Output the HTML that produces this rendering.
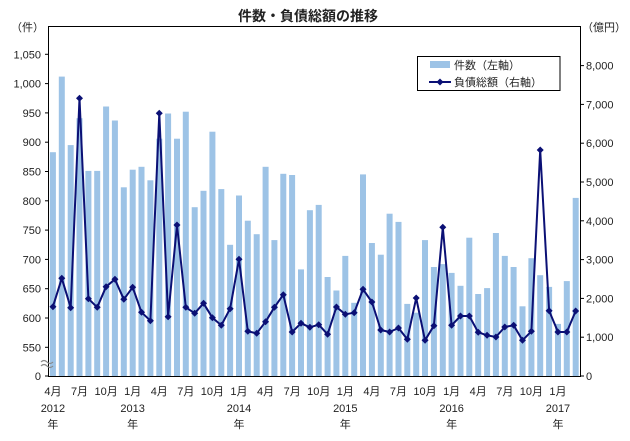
<!DOCTYPE html>
<html><head><meta charset="utf-8"><style>
body{margin:0;background:#fff;width:630px;height:436px;overflow:hidden}
text{font-family:"Liberation Sans","Noto Sans CJK JP",sans-serif;fill:#222}
</style></head><body>
<svg id="s" width="630" height="436" xmlns="http://www.w3.org/2000/svg">
<text x="308" y="21" font-size="14" font-weight="bold" text-anchor="middle" fill="#333">件数・負債総額の推移</text>
<g id="g"></g>
<rect x="417.5" y="56.5" width="142.5" height="34" fill="#fff" stroke="#000" stroke-width="1"/>
<rect x="430" y="61" width="20" height="7" fill="#9dc3e6"/>
<text x="454" y="69" font-size="11">件数（左軸）</text>
<line x1="429" y1="82" x2="451" y2="82" stroke="#0b1075" stroke-width="2"/>
<polygon points="440,78.5 443.5,82 440,85.5 436.5,82" fill="#0b1075"/>
<text x="454" y="86" font-size="11">負債総額（右軸）</text>
</svg>
<script>
var bars=[883,1012,895,941,851,851,961,937,823,853,858,835,906,949,906,952,789,817,918,820,725,809,766,743,858,733,846,844,683,784,793,670,647,706,626,845,728,708,778,764,624,609,733,687,692,677,655,737,641,651,745,706,687,620,702,673,653,590,663,805];
var ly=[306.7,278.3,307.7,98.3,298.7,307.3,286.7,279.3,299.3,287.3,312.3,320.7,113.3,316.7,225,307.3,313.3,303.3,317.7,325.3,308.7,259.3,331.3,333.3,321.7,307.3,294.7,332,323.3,327.3,324.7,334.3,307,314.3,312.7,289.3,302,330,332,328,339.3,298,340.3,325.7,227.3,325.3,316,316,332.3,335.3,337,327,325.3,340.3,331.3,150,310.7,332,332,311];
var h='';function cx(i){return 48.5+8.86*(i+0.5);}
function Y(v){return 347.3-(v-550)*0.586;}
for(var i=0;i<60;i++){var y=Y(bars[i]);h+='<rect x="'+(cx(i)-3).toFixed(1)+'" y="'+y.toFixed(1)+'" width="6" height="'+(376-y).toFixed(1)+'" fill="#9dc3e6"/>';}
var p=ly.map(function(y,i){return cx(i).toFixed(1)+','+y}).join(' ');
h+='<polyline points="'+p+'" fill="none" stroke="#0b1075" stroke-width="2" stroke-linejoin="round"/>';
ly.forEach(function(y,i){var x=cx(i);h+='<polygon points="'+x+','+(y-3.5)+' '+(x+3.5)+','+y+' '+x+','+(y+3.5)+' '+(x-3.5)+','+y+'" fill="#0b1075"/>';});
// axes
h+='<line x1="48.5" y1="26.5" x2="580.5" y2="26.5" stroke="#000"/>';
h+='<line x1="48.5" y1="26" x2="48.5" y2="376" stroke="#000"/><line x1="580.5" y1="26" x2="580.5" y2="376" stroke="#000"/><line x1="48" y1="376.5" x2="581" y2="376.5" stroke="#000"/>';
var lt=[[0,376]];for(var v=550;v<=1050;v+=50)lt.push([v,Y(v)]);
lt.forEach(function(t){var yy=t[1];h+='<line x1="45" y1="'+yy+'" x2="48.5" y2="'+yy+'" stroke="#000"/><text x="41" y="'+(yy+4)+'" font-size="11" text-anchor="end">'+t[0].toLocaleString('en-US')+'</text>';});
for(var r=0;r<=8;r++){var yy=376-r*38.8;h+='<line x1="580.5" y1="'+yy+'" x2="584" y2="'+yy+'" stroke="#000"/><text x="586" y="'+(yy+4)+'" font-size="11">'+(r*1000).toLocaleString('en-US')+'</text>';}
h+='<text x="44" y="31" font-size="11" text-anchor="end">（件）</text><text x="582" y="31" font-size="11">（億円）</text>';
h+='<path d="M41,366 q3,-3 6,0 t6,0 M41,362 q3,-3 6,0 t6,0" stroke="#888" fill="none" stroke-width="1.2"/>';
var ms=['4月','7月','10月','1月'];
for(var k=0;k<20;k++){var i=k*3;h+='<text x="'+cx(i)+'" y="395" font-size="11" text-anchor="middle">'+ms[k%4]+'</text>';}
[[0,2012],[9,2013],[21,2014],[33,2015],[45,2016],[57,2017]].forEach(function(a){var x=cx(a[0]);h+='<text x="'+x+'" y="412" font-size="11" text-anchor="middle">'+a[1]+'</text><text x="'+x+'" y="428" font-size="11" text-anchor="middle">年</text>';});
document.getElementById('g').innerHTML=h;
</script>
</body></html>
